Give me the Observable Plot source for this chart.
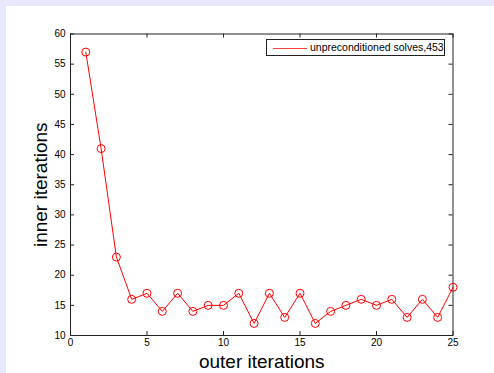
<!DOCTYPE html>
<html>
<head>
<meta charset="utf-8">
<script src="https://cdn.jsdelivr.net/npm/d3@7"></script>
<script src="https://cdn.jsdelivr.net/npm/@observablehq/plot@0.6"></script>
<style>
  html, body { margin: 0; padding: 0; background: #e8e8fc; width: 494px; height: 373px; overflow: hidden; }
  #wrap { position: absolute; left: 6px; top: 6px; width: 488px; height: 367px; background: #fff; }
  #legend { position: absolute; left: 266px; top: 39px; width: 179px; height: 17px; border: 1px solid #222; background: #fff;
            font-family: "Liberation Sans", Arial, sans-serif; font-size: 10.5px; color: #000; box-sizing: border-box; }
  #legend .sw { position: absolute; left: 6px; top: 7.5px; width: 34px; height: 0; border-top: 1px solid #ff4040; }
  #legend .tx { position: absolute; left: 43px; top: 1px; white-space: nowrap; }
</style>
</head>
<body>
<div id="wrap"></div>
<div id="legend"><div class="sw"></div><div class="tx"></div></div>
<script>
const outerIterations = [1,2,3,4,5,6,7,8,9,10,11,12,13,14,15,16,17,18,19,20,21,22,23,24,25];
const innerIterations = [57,41,23,16,17,14,17,14,15,15,17,12,17,13,17,12,14,15,16,15,16,13,16,13,18];
const xTicks = [0,5,10,15,20,25];
const yTicks = [10,15,20,25,30,35,40,45,50,55,60];
const xLabel = "outer iterations";
const yLabel = "inner iterations";
const seriesName = "unpreconditioned solves," + d3.sum(innerIterations);

const data = outerIterations.map((x, i) => ({x, y: innerIterations[i]}));

const W = 488, H = 367;
const mL = 64, mR = 41.5, mT = 27.5, mB = 38;
const fw = W - mL - mR, fh = H - mT - mB;
const tl = 4;
const axisColor = "#222";

const chart = Plot.plot({
  width: W, height: H,
  marginLeft: mL, marginRight: mR, marginTop: mT, marginBottom: mB,
  style: { fontFamily: "'Liberation Sans', Arial, sans-serif", background: "#fff", color: "#000", overflow: "visible" },
  x: { domain: [0, 25], ticks: xTicks },
  y: { domain: [10, 60], ticks: yTicks },
  marks: [
    Plot.axisX(xTicks, { tickSize: 0, tickPadding: 3, fontSize: 10, label: null }),
    Plot.axisY(yTicks, { tickSize: 0, tickPadding: 5, fontSize: 10, label: null }),
    Plot.tickX(xTicks, { x: d => d, insetTop: fh - tl, stroke: axisColor }),
    Plot.tickX(xTicks, { x: d => d, insetBottom: fh - tl, stroke: axisColor }),
    Plot.tickY(yTicks, { y: d => d, insetRight: fw - tl, stroke: axisColor }),
    Plot.tickY(yTicks, { y: d => d, insetLeft: fw - tl, stroke: axisColor }),
    Plot.frame({ stroke: axisColor }),
    Plot.line(data, { x: "x", y: "y", stroke: "#ff0000", strokeWidth: 1 }),
    Plot.dot(data, { x: "x", y: "y", r: 4, stroke: "#ff0000", fill: "none", strokeWidth: 1 }),
    Plot.text([xLabel], { frameAnchor: "bottom", dy: 26, textAnchor: "middle", lineAnchor: "middle", fontSize: 19, fill: "#000" }),
    Plot.text([yLabel], { frameAnchor: "left", rotate: -90, dx: -30, textAnchor: "middle", lineAnchor: "middle", fontSize: 19, fill: "#000" })
  ]
});
document.getElementById("wrap").appendChild(chart);
document.querySelector("#legend .tx").textContent = seriesName;
</script>
</body>
</html>
